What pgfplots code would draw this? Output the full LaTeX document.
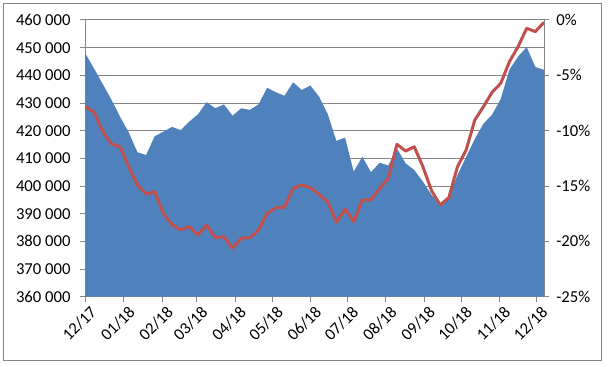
\documentclass[border=0pt]{standalone}
\usepackage{pgfplots}
\pgfplotsset{compat=1.18}
\usepackage{pgfplotstable}
\usepackage{fontspec}
\setmainfont{Carlito}
\definecolor{xlblue}{HTML}{4F81BD}
\definecolor{xlred}{HTML}{C0504D}
\definecolor{xlgray}{HTML}{868686}

\pgfplotstableread{
x y
0 447800
7 442400
14 436800
21 431200
28 425000
35 419400
42 412200
49 411200
56 418000
63 419600
70 421400
77 420200
84 423300
91 425900
98 430300
105 428100
112 429500
119 425400
126 428100
133 427500
140 429500
147 435500
154 433900
161 432600
168 437500
175 434700
182 436300
189 432300
196 426000
203 416300
210 417500
217 405200
224 410600
231 405000
238 408400
245 407400
252 413600
259 408200
266 405800
273 401600
280 396800
287 393100
294 396000
301 404000
308 410500
315 417000
322 422500
329 425800
336 431500
343 442000
350 446800
357 450200
364 443000
371 442000
}\stock

\pgfplotstableread{
x y
0 -7.83
7 -8.34
14 -10.09
21 -11.2
28 -11.45
35 -13.25
42 -14.9
49 -15.72
56 -15.51
63 -17.47
70 -18.5
77 -18.97
84 -18.67
91 -19.43
98 -18.52
105 -19.67
112 -19.58
119 -20.63
126 -19.72
133 -19.67
140 -18.97
147 -17.47
154 -16.96
161 -16.92
168 -15.21
175 -14.91
182 -15.15
189 -15.75
196 -16.42
203 -18.28
210 -17.08
217 -18.22
224 -16.26
231 -16.26
238 -15.21
245 -14.3
252 -11.23
259 -11.84
266 -11.45
273 -13.25
280 -15.42
287 -16.71
294 -16.05
301 -13.25
308 -11.75
315 -9.04
322 -7.83
329 -6.53
336 -5.72
343 -3.77
350 -2.41
357 -0.75
364 -1.05
371 -0.21
}\change

\begin{document}
\begin{tikzpicture}[font=\fontsize{12.5}{15}\selectfont]
\useasboundingbox (-64.125pt,-52.725pt) rectangle (391.875pt,222.525pt);
\draw[xlgray, line width=0.75pt] (-61.125pt,-48.225pt) rectangle (386.625pt,219.525pt);
\begin{axis}[
  at={(0pt,0pt)}, anchor=south west,
  scale only axis, width=343.875pt, height=207.525pt,
  xmin=0, xmax=371, ymin=360000, ymax=460000,
  scaled y ticks=false,
  axis x line*=bottom, axis y line*=left,
  axis line style={draw=xlgray, line width=0.75pt, -},
  tick align=outside, major tick length=3.75pt,
  tick style={draw=xlgray, line width=0.75pt},
  xtick={0,31,62,90,121,151,182,212,243,274,304,335,365},
  xticklabels={12/17,01/18,02/18,03/18,04/18,05/18,06/18,07/18,08/18,09/18,10/18,11/18,12/18},
  xticklabel style={rotate=45, anchor=north east, inner sep=1pt, xshift=1.5pt, yshift=-2.5pt},
  ytick={360000,370000,380000,390000,400000,410000,420000,430000,440000,450000,460000},
  yticklabels={360\ 000,370\ 000,380\ 000,390\ 000,400\ 000,410\ 000,420\ 000,430\ 000,440\ 000,450\ 000,460\ 000},
  yticklabel style={xshift=-4pt},
  ymajorgrids, grid style={draw=xlgray, line width=0.75pt},
]
\addplot[fill=xlblue, draw=none] table[x=x,y=y] {\stock} \closedcycle;
\end{axis}
\begin{axis}[
  at={(0pt,0pt)}, anchor=south west,
  scale only axis, width=343.875pt, height=207.525pt,
  xmin=0, xmax=371, ymin=-25, ymax=0,
  axis x line=none, axis y line*=right,
  axis line style={draw=xlgray, line width=0.75pt, -},
  tick align=outside, major tick length=3.75pt,
  tick style={draw=xlgray, line width=0.75pt},
  ytick={-25,-20,-15,-10,-5,0},
  yticklabels={-25\%,-20\%,-15\%,-10\%,-5\%,0\%},
  yticklabel style={xshift=2pt},
]
\addplot[xlred, line width=2.25pt, line join=round] table[x=x,y=y] {\change};
\end{axis}
\end{tikzpicture}
\end{document}
